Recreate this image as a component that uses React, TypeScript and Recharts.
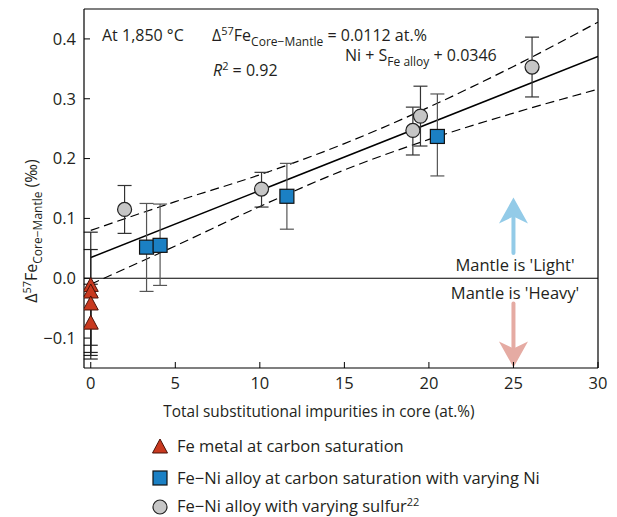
import React from "react";
import {
  ComposedChart,
  Scatter,
  Line,
  XAxis,
  YAxis,
  ReferenceLine,
  ErrorBar,
} from "recharts";

const FONT = "'Open Sans', sans-serif";
const TEXT = "#231f20";

const xTicks = [0, 5, 10, 15, 20, 25, 30];
const yTicks = [-0.1, 0, 0.1, 0.2, 0.3, 0.4];

// Fe metal at carbon saturation
const feX = [0, 0, 0, 0];
const feY = [-0.012, -0.023, -0.043, -0.075];
const feLow = [-0.112, -0.124, -0.129, -0.135];
const feHigh = [0.077, 0.048, -0.01, -0.03];

// Fe-Ni alloy at carbon saturation with varying Ni
const niX = [3.3, 4.1, 11.6, 20.5];
const niY = [0.052, 0.055, 0.137, 0.237];
const niLow = [-0.022, -0.012, 0.082, 0.171];
const niHigh = [0.125, 0.124, 0.192, 0.308];

// Fe-Ni alloy with varying sulfur
const sX = [2.0, 10.1, 19.05, 19.5, 26.1];
const sY = [0.115, 0.149, 0.247, 0.271, 0.353];
const sLow = [0.075, 0.119, 0.206, 0.221, 0.303];
const sHigh = [0.155, 0.177, 0.286, 0.321, 0.403];

// regression line and confidence band
const fitX = [0, 30];
const fitY = [0.0346, 0.3706];
const bandX = [0, 5, 10, 15, 20, 25, 30];
const bandUpper = [0.08, 0.128, 0.173, 0.225, 0.286, 0.354, 0.428];
const bandLower = [-0.01, 0.054, 0.12, 0.181, 0.232, 0.276, 0.316];

const withErr = (xs: number[], ys: number[], lo: number[], hi: number[]) =>
  xs.map((x, i) => ({ x, y: ys[i], err: [ys[i] - lo[i], hi[i] - ys[i]] }));

const feData = withErr(feX, feY, feLow, feHigh);
const niData = withErr(niX, niY, niLow, niHigh);
const sData = withErr(sX, sY, sLow, sHigh);
const fitData = fitX.map((x, i) => ({ x, y: fitY[i] }));
const upperData = bandX.map((x, i) => ({ x, y: bandUpper[i] }));
const lowerData = bandX.map((x, i) => ({ x, y: bandLower[i] }));

const RED = "#c8391f";
const BLUE = "#1b80c4";
const GREY = "#c6c6c6";

const Tri = ({ cx, cy }: any) => (
  <path
    d={`M${cx},${cy - 8} L${cx + 7.5},${cy + 6} L${cx - 7.5},${cy + 6} Z`}
    fill={RED}
    stroke="#4a1208"
    strokeWidth={1}
  />
);
const Sq = ({ cx, cy }: any) => (
  <rect
    x={cx - 7}
    y={cy - 7}
    width={14}
    height={14}
    fill={BLUE}
    stroke="#111"
    strokeWidth={1.2}
  />
);
const Circ = ({ cx, cy }: any) => (
  <circle cx={cx} cy={cy} r={7} fill={GREY} stroke="#222" strokeWidth={1.2} />
);

const arrow = (color: string) => (props: any) => {
  const { x1, y1, x2, y2 } = props;
  const dir = y2 < y1 ? -1 : 1;
  const base = y2 - dir * 26;
  const notch = y2 - dir * 19;
  return (
    <g>
      <line
        x1={x1}
        y1={y1}
        x2={x2}
        y2={notch}
        stroke={color}
        strokeWidth={4}
        strokeLinecap="round"
      />
      <path
        d={`M${x2},${y2} L${x2 - 14.5},${base} L${x2},${notch} L${x2 + 14.5},${base} Z`}
        fill={color}
      />
    </g>
  );
};

const fmtY = (v: number) =>
  v < 0 ? "\u2212" + Math.abs(v).toFixed(1) : v.toFixed(1);

const tickStyle = { fill: TEXT, fontSize: 16.5, fontFamily: FONT };

export default function App() {
  return (
    <div
      style={{
        position: "absolute",
        left: 0,
        top: 0,
        width: 617,
        height: 517,
        background: "#fff",
        fontFamily: FONT,
      }}
    >
      <ComposedChart
        width={617}
        height={517}
        margin={{ top: 9, right: 19, bottom: 119, left: 0 }}
      >
        <XAxis
          dataKey="x"
          type="number"
          domain={[-0.4, 30]}
          allowDataOverflow
          ticks={xTicks}
          height={30}
          tickSize={-6}
          tickMargin={15}
          tick={tickStyle}
          stroke="#000"
          axisLine={{ stroke: "#000", strokeWidth: 1.2 }}
          tickLine={{ stroke: "#000" }}
        />
        <YAxis
          dataKey="y"
          type="number"
          domain={[-0.15, 0.45]}
          allowDataOverflow
          ticks={yTicks}
          width={84}
          tickSize={-6}
          tickMargin={14}
          tick={tickStyle}
          tickFormatter={fmtY}
          axisLine={{ stroke: "#000", strokeWidth: 1.2 }}
          tickLine={{ stroke: "#000" }}
        />
        <ReferenceLine y={0.45} stroke="#000" strokeWidth={1.2} />
        <ReferenceLine x={30} stroke="#000" strokeWidth={1.2} />
        <ReferenceLine y={0} stroke="#000" strokeWidth={1.2} />

        <ReferenceLine
          segment={[
            { x: 25, y: 0.042 },
            { x: 25, y: 0.135 },
          ]}
          shape={arrow("#93cbe8")}
        />
        <ReferenceLine
          segment={[
            { x: 25, y: -0.042 },
            { x: 25, y: -0.149 },
          ]}
          ifOverflow="visible"
          shape={arrow("#e5aba3")}
        />

        <Line
          data={upperData}
          dataKey="y"
          type="monotone"
          stroke="#000"
          strokeWidth={1.2}
          strokeDasharray="9 5"
          dot={false}
          activeDot={false}
          isAnimationActive={false}
        />
        <Line
          data={lowerData}
          dataKey="y"
          type="monotone"
          stroke="#000"
          strokeWidth={1.2}
          strokeDasharray="9 5"
          dot={false}
          activeDot={false}
          isAnimationActive={false}
        />
        <Line
          data={fitData}
          dataKey="y"
          type="linear"
          stroke="#000"
          strokeWidth={1.5}
          dot={false}
          activeDot={false}
          isAnimationActive={false}
        />

        <Scatter data={feData} shape={<Tri />} isAnimationActive={false}>
          <ErrorBar
            dataKey="err"
            direction="y"
            width={7}
            stroke="#222"
            strokeWidth={1.2}
            isAnimationActive={false}
          />
        </Scatter>
        <Scatter data={niData} shape={<Sq />} isAnimationActive={false}>
          <ErrorBar
            dataKey="err"
            direction="y"
            width={7}
            stroke="#555"
            strokeWidth={1.2}
            isAnimationActive={false}
          />
        </Scatter>
        <Scatter data={sData} shape={<Circ />} isAnimationActive={false}>
          <ErrorBar
            dataKey="err"
            direction="y"
            width={7}
            stroke="#333"
            strokeWidth={1.2}
            isAnimationActive={false}
          />
        </Scatter>
      </ComposedChart>

      <svg
        width={617}
        height={517}
        style={{ position: "absolute", left: 0, top: 0, pointerEvents: "none" }}
        fontFamily={FONT}
        fill={TEXT}
      >
        {/* annotations */}
        <text x={102} y={41} fontSize={16}>
          At 1,850 °C
        </text>
        <text x={212} y={41} fontSize={16}>
          Δ<tspan dy={-6} fontSize={11}>57</tspan>
          <tspan dy={6}>Fe</tspan>
          <tspan dy={5} fontSize={12}>Core−Mantle</tspan>
          <tspan dy={-5}> = 0.0112 at.%</tspan>
        </text>
        <text x={345} y={61} fontSize={16}>
          Ni + S<tspan dy={5} fontSize={12}>Fe alloy</tspan>
          <tspan dy={-5}> + 0.0346</tspan>
        </text>
        <text x={213} y={76} fontSize={16}>
          <tspan fontStyle="italic">R</tspan>
          <tspan dy={-6} fontSize={11}>2</tspan>
          <tspan dy={6}> = 0.92</tspan>
        </text>
        <text x={515} y={271} fontSize={16.5} textAnchor="middle">
          Mantle is 'Light'
        </text>
        <text x={515} y={299} fontSize={16.5} textAnchor="middle">
          Mantle is 'Heavy'
        </text>

        {/* axis titles */}
        <text x={319} y={417} fontSize={15.4} textAnchor="middle">
          Total substitutional impurities in core (at.%)
        </text>
        <text
          x={0}
          y={0}
          fontSize={16}
          textAnchor="middle"
          transform="translate(37,231) rotate(-90)"
        >
          Δ<tspan dy={-6} fontSize={11}>57</tspan>
          <tspan dy={6}>Fe</tspan>
          <tspan dy={5} fontSize={12}>Core−Mantle</tspan>
          <tspan dy={-5}> (‰)</tspan>
        </text>

        {/* legend */}
        <Tri cx={160} cy={447} />
        <text x={177} y={452} fontSize={16.5}>
          Fe metal at carbon saturation
        </text>
        <Sq cx={160} cy={478} />
        <text x={177} y={484} fontSize={16.5}>
          Fe−Ni alloy at carbon saturation with varying Ni
        </text>
        <Circ cx={160} cy={507} />
        <text x={177} y={512} fontSize={16.5}>
          Fe−Ni alloy with varying sulfur
          <tspan dy={-6} fontSize={11}>22</tspan>
        </text>
      </svg>
    </div>
  );
}
